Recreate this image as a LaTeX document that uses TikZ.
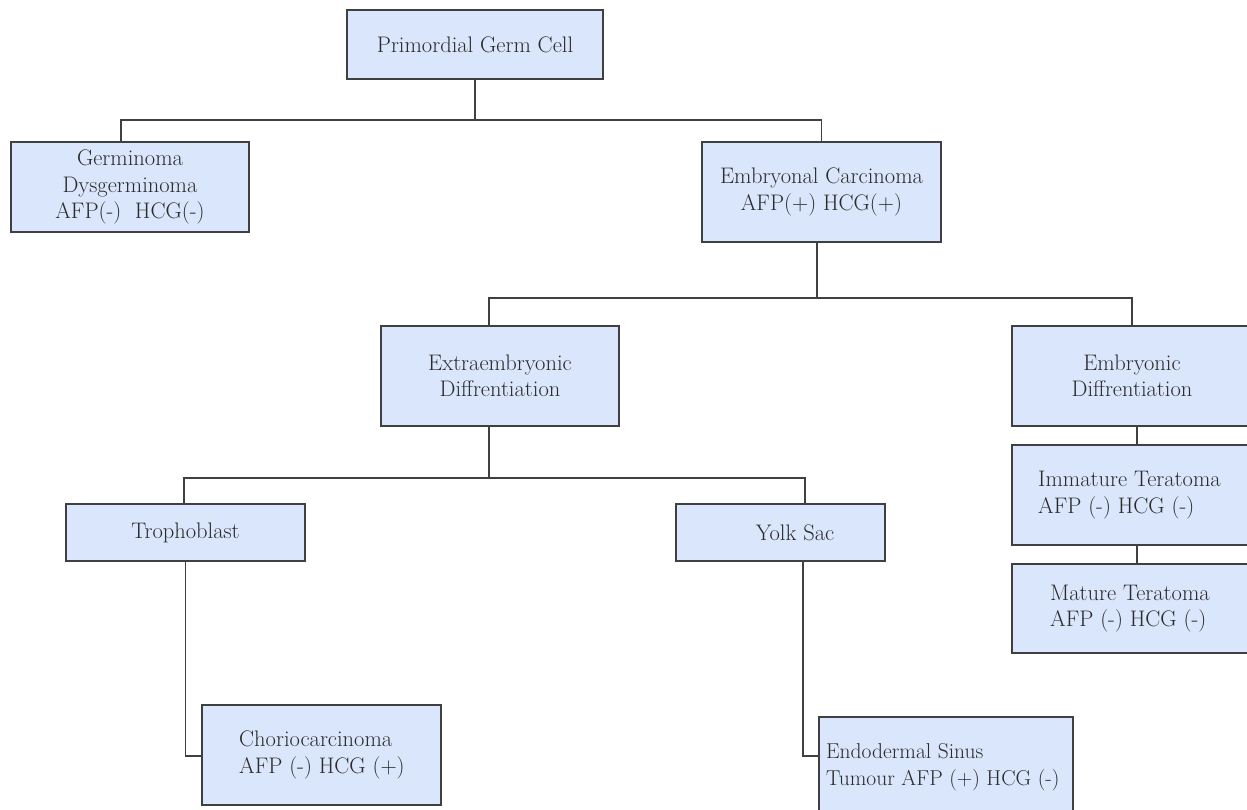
\documentclass[tikz,border=0pt]{standalone}
\usepackage{xcolor}
\definecolor{boxfill}{HTML}{DAE6FB}
\definecolor{boxline}{HTML}{404040}
\definecolor{txt}{HTML}{2B2B2B}
\tikzset{
  box/.style={draw=boxline, fill=boxfill, line width=1.3pt, inner sep=0pt,
    text=txt, align=center, font=\fontsize{22.5}{26.5}\selectfont},
  lbl/.style={text=txt, align=left, inner sep=0pt, font=\fontsize{22.5}{26.5}\selectfont},
  conn/.style={draw=boxline, line width=1.3pt},
}
\begin{document}
\begin{tikzpicture}[x=1pt,y=-1pt]
\useasboundingbox (0,0) rectangle (1247,810);
\clip (0,0) rectangle (1247,810);
% boxes
\node[box, minimum width=256, minimum height=69] (pgc) at (475,44.5) {Primordial Germ Cell};
\node[box, minimum width=238, minimum height=90] (germ) at (130,187) {Germinoma\\Dysgerminoma\\AFP(-)\ \ HCG(-)};
\node[box, minimum width=239, minimum height=100] (emb) at (821.5,192) {Embryonal Carcinoma\\AFP(+) HCG(+)};
\node[box, minimum width=238, minimum height=100] (extra) at (500,376) {Extraembryonic\\Diffrentiation};
\node[box, minimum width=240, minimum height=100] (embd) at (1132,376) {Embryonic\\Diffrentiation};
\node[box, minimum width=240, minimum height=100] (imm) at (1132,495) {};
\node[lbl, anchor=west] (immt) at (1038,495) {Immature Teratoma\\AFP (-) HCG (-)};
\node[box, minimum width=240, minimum height=89] (mat) at (1132,608.5) {};
\node[lbl, anchor=west] (matt) at (1050,608.5) {Mature Teratoma\\AFP (-) HCG (-)};
\node[box, minimum width=239, minimum height=57] (tro) at (185.5,532.5) {Trophoblast};
\node[box, minimum width=209, minimum height=57] (yolk) at (780.5,532.5) {};
\node[lbl] (yolkt) at (795,532.5) {Yolk Sac};
\node[box, minimum width=239, minimum height=100] (chorio) at (321.5,755) {};
\node[lbl, anchor=west] (choriot) at (239,755) {Choriocarcinoma\\AFP (-) HCG (+)};
\node[box, minimum width=254, minimum height=100] (endo) at (946,767) {};
\node[lbl, anchor=west, font=\fontsize{21.5}{26.5}\selectfont] (endot) at (826,767) {Endodermal Sinus\\Tumour AFP (+) HCG (-)};
% connectors
\draw[conn] (pgc.south) -- (pgc.south |- 0,120) -| ([xshift=-9pt]germ.north);
\draw[conn] (pgc.south |- 0,120) -| (emb.north);
\draw[conn] ([xshift=-4.5pt]emb.south) -- ([xshift=-4.5pt]emb.south |- 0,298) -| ([xshift=-11pt]extra.north);
\draw[conn] ([xshift=-4.5pt]emb.south |- 0,298) -| (embd.north);
\draw[conn] ([xshift=-11pt]extra.south) -- ([xshift=-11pt]extra.south |- 0,478) -| ([xshift=-1.5pt]tro.north);
\draw[conn] ([xshift=-11pt]extra.south |- 0,478) -| ([xshift=24.5pt]yolk.north);
\draw[conn] (tro.south) |- (chorio.west |- 0,756);
\draw[conn] ([xshift=22.5pt]yolk.south) |- (endo.west |- 0,756);
\draw[conn] ([xshift=5pt]embd.south) -- ([xshift=5pt]imm.north);
\draw[conn] ([xshift=5pt]imm.south) -- ([xshift=5pt]mat.north);
\end{tikzpicture}
\end{document}
